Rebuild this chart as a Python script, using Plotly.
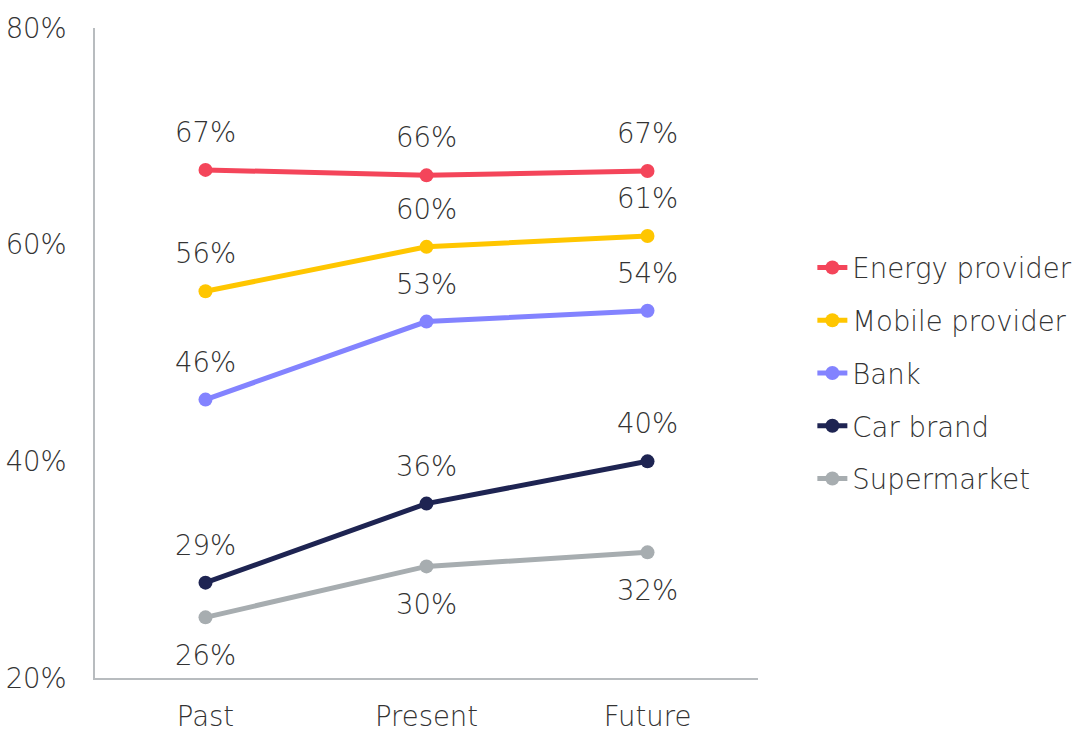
import plotly.graph_objects as go

periods = ["Past", "Present", "Future"]
series_names = ["Energy provider", "Mobile provider", "Bank", "Car brand", "Supermarket"]
energy = [66.9, 66.4, 66.8]
mobile = [55.7, 59.8, 60.8]
bank = [45.7, 52.9, 53.9]
car = [28.8, 36.1, 40.0]
supermarket = [25.6, 30.3, 31.6]
labels_energy = ["67%", "66%", "67%"]
labels_mobile = ["56%", "60%", "61%"]
labels_bank = ["46%", "53%", "54%"]
labels_car = ["29%", "36%", "40%"]
labels_super = ["26%", "30%", "32%"]
y_ticks = [20, 40, 60, 80]
y_tick_text = ["20%", "40%", "60%", "80%"]

colors = ["#F4455A", "#FFC600", "#8383FF", "#1E2452", "#A7ADB0"]
values = [energy, mobile, bank, car, supermarket]
labels = [labels_energy, labels_mobile, labels_bank, labels_car, labels_super]
label_below = [False, False, False, False, True]

FONT = "'DejaVu Sans', sans-serif"
TXT = "#333333"
FS = 27.5
W = 200

fig = go.Figure()
annotations = []
for i, (name, vals, col, labs, below) in enumerate(zip(series_names, values, colors, labels, label_below)):
    fig.add_trace(go.Scatter(
        x=periods, y=vals, name=name, mode="lines+markers",
        line=dict(color=col, width=5), marker=dict(color=col, size=14),
        legendgroup=f"g{i}", hoverinfo="skip",
    ))
    for p, v, t in zip(periods, vals, labs):
        annotations.append(dict(
            x=p, y=v, xref="x", yref="y", text=t, showarrow=False,
            yshift=-38 if below else 38,
            font=dict(family=FONT, size=FS, color=TXT, weight=W),
        ))

fig.update_layout(
    width=1084, height=731,
    margin=dict(l=95, r=326, t=28, b=53, autoexpand=False),
    paper_bgcolor="white", plot_bgcolor="white",
    font=dict(family=FONT, size=FS, color=TXT, weight=W),
    showlegend=True,
    legend=dict(
        x=1.082, xanchor="left", y=0.469, yanchor="middle",
        font=dict(family=FONT, size=FS, color=TXT, weight=W),
        tracegroupgap=14, itemwidth=30,
        bgcolor="rgba(0,0,0,0)",
    ),
    annotations=annotations,
)
fig.update_xaxes(
    type="category", range=[-0.5, 2.5], showgrid=False, zeroline=False,
    showline=True, linecolor="#B8BCBF", linewidth=1.5, automargin=False,
    ticks="", ticklabelstandoff=13,
    tickfont=dict(family=FONT, size=FS, color=TXT, weight=W),
)
fig.update_yaxes(
    range=[20, 80], tickvals=y_ticks, ticktext=y_tick_text,
    showgrid=False, zeroline=False, automargin=False,
    showline=True, linecolor="#B8BCBF", linewidth=1.5,
    ticks="", ticklabelstandoff=21,
    tickfont=dict(family=FONT, size=FS, color=TXT, weight=W),
)

fig.write_html("out.html")
